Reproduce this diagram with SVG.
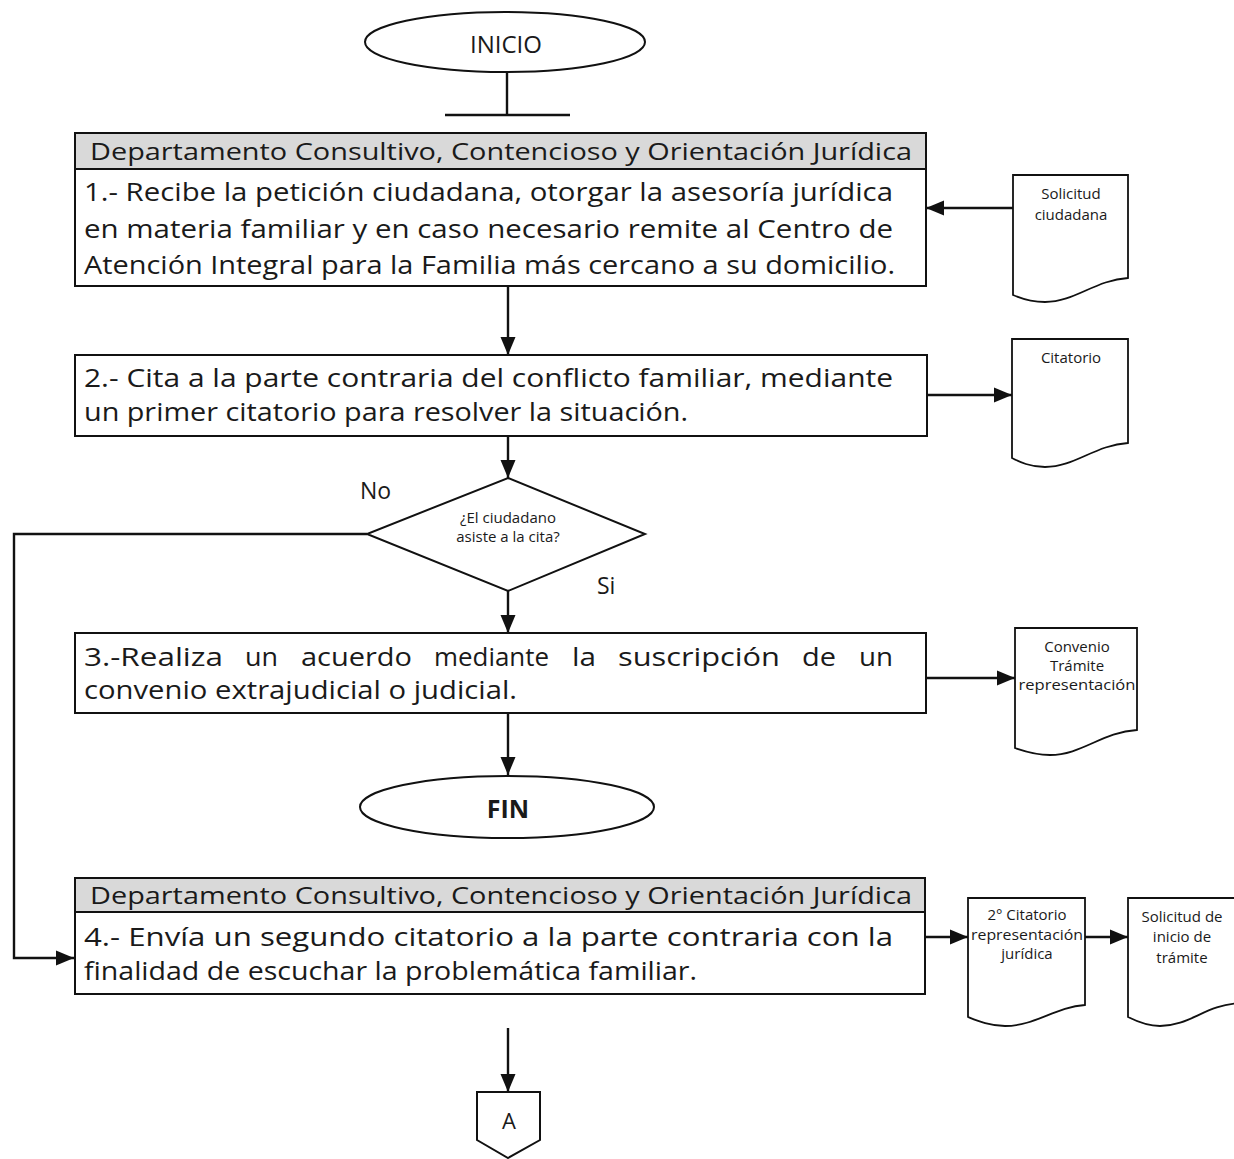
<svg xmlns="http://www.w3.org/2000/svg" width="1234" height="1159" viewBox="0 0 1234 1159">
  <style>
    .ln { fill: none; stroke: #111; stroke-width: 2.4; }
    .box { fill: #fff; stroke: #111; stroke-width: 2; }
    .hdr { fill: #d9d9d9; stroke: #111; stroke-width: 2; }
    .doc { fill: #fff; stroke: #111; stroke-width: 1.8; }
    .t { font-family: "Open Sans", "Liberation Sans", sans-serif; fill: #1a1a1a; }
    .body { font-size: 25px; }
    .head { font-size: 23.5px; }
    .small { font-size: 15px; text-anchor: middle; }
    .mid { text-anchor: middle; }
  </style>
  <defs>
    <marker id="arr" viewBox="0 0 18 16" refX="18" refY="8" markerWidth="18" markerHeight="16" markerUnits="userSpaceOnUse" orient="auto">
      <path d="M0,0.5 L18,8 L0,15.5 Z" fill="#111"/>
    </marker>
  </defs>

  <!-- connectors -->
  <g id="connectors">
    <line class="ln" x1="507" y1="72" x2="507" y2="115"/>
    <line class="ln" x1="445" y1="115" x2="570" y2="115"/>
    <line class="ln" x1="1013" y1="208" x2="926" y2="208" marker-end="url(#arr)"/>
    <line class="ln" x1="508" y1="287" x2="508" y2="355" marker-end="url(#arr)"/>
    <line class="ln" x1="927" y1="395" x2="1012" y2="395" marker-end="url(#arr)"/>
    <line class="ln" x1="508" y1="436" x2="508" y2="478" marker-end="url(#arr)"/>
    <polyline class="ln" points="367,534 14,534 14,958 74,958" marker-end="url(#arr)"/>
    <line class="ln" x1="508" y1="591" x2="508" y2="633" marker-end="url(#arr)"/>
    <line class="ln" x1="926" y1="678" x2="1015" y2="678" marker-end="url(#arr)"/>
    <line class="ln" x1="508" y1="713" x2="508" y2="775" marker-end="url(#arr)"/>
    <line class="ln" x1="925" y1="937" x2="968" y2="937" marker-end="url(#arr)"/>
    <line class="ln" x1="1085" y1="937" x2="1128" y2="937" marker-end="url(#arr)"/>
    <line class="ln" x1="508" y1="1028" x2="508" y2="1092" marker-end="url(#arr)"/>
  </g>

  <!-- start -->
  <g id="inicio">
    <ellipse class="box" cx="505" cy="42" rx="140" ry="30" stroke-width="1.5"/>
    <text class="t mid" x="506" y="53" font-size="24">INICIO</text>
  </g>

  <!-- step 1 -->
  <g id="paso1">
    <rect class="hdr" x="75" y="133" width="851" height="36"/>
    <text class="t head" x="90" y="160" textLength="822" lengthAdjust="spacingAndGlyphs">Departamento Consultivo, Contencioso y Orientación Jurídica</text>
    <rect class="box" x="75" y="169" width="851" height="117"/>
    <text class="t body" x="84" y="201" textLength="809" lengthAdjust="spacingAndGlyphs">1.- Recibe la petición ciudadana, otorgar la asesoría jurídica</text>
    <text class="t body" x="84" y="238" textLength="809" lengthAdjust="spacingAndGlyphs">en materia familiar y en caso necesario remite al Centro de</text>
    <text class="t body" x="84" y="274" textLength="811" lengthAdjust="spacingAndGlyphs">Atención Integral para la Familia más cercano a su domicilio.</text>
  </g>

  <g id="doc-solicitud">
    <path class="doc" d="M1013,175 H1128 V278 C1095,280 1075,302 1045,302 C1030,302 1020,298 1013,295 Z"/>
    <text class="t small" x="1071" y="199">Solicitud</text>
    <text class="t small" x="1071" y="220">ciudadana</text>
  </g>

  <!-- step 2 -->
  <g id="paso2">
    <rect class="box" x="75" y="355" width="852" height="81"/>
    <text class="t body" x="84" y="387" textLength="809" lengthAdjust="spacingAndGlyphs">2.- Cita a la parte contraria del conflicto familiar, mediante</text>
    <text class="t body" x="84" y="421" textLength="604" lengthAdjust="spacingAndGlyphs">un primer citatorio para resolver la situación.</text>
  </g>

  <g id="doc-citatorio">
    <path class="doc" d="M1012,339 H1128 V443 C1095,445 1075,467 1045,467 C1030,467 1020,462 1012,458 Z"/>
    <text class="t small" x="1071" y="363">Citatorio</text>
  </g>

  <!-- decision -->
  <g id="decision">
    <polygon class="box" points="508,478 645,534 508,591 367,534" stroke-width="1.5"/>
    <text class="t small" x="508" y="523" font-size="14.5">¿El ciudadano</text>
    <text class="t small" x="508" y="542" font-size="14.5">asiste a la cita?</text>
    <text class="t" x="360" y="499" font-size="23">No</text>
    <text class="t" x="597" y="594" font-size="23">Si</text>
  </g>

  <!-- step 3: first line justified word by word -->
  <g id="paso3">
    <rect class="box" x="75" y="633" width="851" height="80"/>
    <text class="t body" y="666">
      <tspan x="84" textLength="139" lengthAdjust="spacingAndGlyphs">3.-Realiza</tspan>
      <tspan x="245" textLength="33" lengthAdjust="spacingAndGlyphs">un</tspan>
      <tspan x="301" textLength="111" lengthAdjust="spacingAndGlyphs">acuerdo</tspan>
      <tspan x="434" textLength="115" lengthAdjust="spacingAndGlyphs">mediante</tspan>
      <tspan x="572" textLength="24" lengthAdjust="spacingAndGlyphs">la</tspan>
      <tspan x="618" textLength="162" lengthAdjust="spacingAndGlyphs">suscripción</tspan>
      <tspan x="802" textLength="34" lengthAdjust="spacingAndGlyphs">de</tspan>
      <tspan x="859" textLength="34" lengthAdjust="spacingAndGlyphs">un</tspan>
    </text>
    <text class="t body" x="84" y="699" textLength="433" lengthAdjust="spacingAndGlyphs">convenio extrajudicial o judicial.</text>
  </g>

  <g id="doc-convenio">
    <path class="doc" d="M1015,628 H1137 V730 C1102,732 1082,755 1050,755 C1035,755 1024,751 1015,748 Z"/>
    <text class="t small" x="1077" y="652">Convenio</text>
    <text class="t small" x="1077" y="671">Trámite</text>
    <text class="t small" x="1077" y="690" textLength="117" lengthAdjust="spacingAndGlyphs">representación</text>
  </g>

  <!-- end -->
  <g id="fin">
    <ellipse class="box" cx="507" cy="807" rx="147" ry="31" stroke-width="1.5"/>
    <text class="t mid" x="508" y="818" font-size="25" font-weight="bold" font-family="'DejaVu Sans', sans-serif">FIN</text>
  </g>

  <!-- step 4 -->
  <g id="paso4">
    <rect class="hdr" x="75" y="878" width="850" height="34"/>
    <text class="t head" x="90" y="904" textLength="822" lengthAdjust="spacingAndGlyphs">Departamento Consultivo, Contencioso y Orientación Jurídica</text>
    <rect class="box" x="75" y="912" width="850" height="82"/>
    <text class="t body" x="84" y="946" textLength="809" lengthAdjust="spacingAndGlyphs">4.- Envía un segundo citatorio a la parte contraria con la</text>
    <text class="t body" x="84" y="980" textLength="613" lengthAdjust="spacingAndGlyphs">finalidad de escuchar la problemática familiar.</text>
  </g>

  <g id="doc-segundo-citatorio">
    <path class="doc" d="M968,898 H1085 V1005 C1055,1007 1035,1026 1005,1026 C990,1026 978,1021 968,1017 Z"/>
    <text class="t small" x="1027" y="920" font-size="14.5">2° Citatorio</text>
    <text class="t small" x="1027" y="940" font-size="14.5" textLength="112" lengthAdjust="spacingAndGlyphs">representación</text>
    <text class="t small" x="1027" y="959" font-size="14.5">jurídica</text>
  </g>

  <g id="doc-solicitud-tramite">
    <path class="doc" d="M1128,898 H1240 V1003 C1205,1005 1190,1026 1160,1026 C1147,1026 1136,1021 1128,1017 Z"/>
    <text class="t small" x="1182" y="922" font-size="16">Solicitud de</text>
    <text class="t small" x="1182" y="942" font-size="16">inicio de</text>
    <text class="t small" x="1182" y="963" font-size="16">trámite</text>
  </g>

  <!-- off-page connector -->
  <g id="conector-a">
    <path class="box" d="M477,1092 H540 V1140 L508,1158 L477,1140 Z" stroke-width="1.5"/>
    <text class="t mid" x="509" y="1129" font-size="22">A</text>
  </g>
</svg>
